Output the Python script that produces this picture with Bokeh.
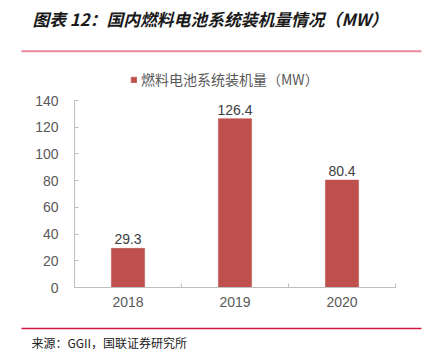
from bokeh.plotting import figure
from bokeh.models import (ColumnDataSource, LabelSet, Label, Legend, LegendItem,
                          FixedTicker, SingleIntervalTicker, Range1d, BoxAnnotation)
from bokeh.core.properties import value
from bokeh.embed import file_html
from bokeh.resources import INLINE

years = ["2018", "2019", "2020"]
values = [29.3, 126.4, 80.4]
value_labels = ["29.3", "126.4", "80.4"]
series_name = "燃料电池系统装机量（MW）"
title_text = "图表 12：国内燃料电池系统装机量情况（MW）"
source_text = "来源：GGII，国联证券研究所"
y_max = 140
y_step = 20

# layout (pixels)
W, H = 433, 360
AX_LEFT, AX_RIGHT = 74, 395      # x of y-axis and right end of x-axis
AX_TOP, AX_BOTTOM = 100, 287     # y of top tick and x-axis line
n = len(years)
sx = (AX_RIGHT - AX_LEFT) / n
sy = (AX_BOTTOM - AX_TOP) / y_max

x_pos = [i + 0.5 for i in range(n)]
src = ColumnDataSource(dict(x=x_pos, top=values, lab=value_labels))

p = figure(width=W, height=H, output_backend="svg", toolbar_location=None,
           x_range=Range1d(-AX_LEFT / sx, (W - AX_LEFT) / sx),
           y_range=Range1d(-(H - AX_BOTTOM) / sy, AX_BOTTOM / sy),
           min_border=0, outline_line_color=None)
p.grid.visible = False

r = p.vbar(x="x", top="top", width=0.31, source=src, fill_color="#c0504d",
           line_color="#b84a47", line_width=0.5)

CJK = "Noto Sans CJK SC"
LAT = "Liberation Sans"

# axes
p.yaxis.fixed_location = 0
p.yaxis.bounds = (0, y_max)
p.yaxis.ticker = SingleIntervalTicker(interval=y_step)
p.yaxis.axis_line_color = "#bfbfbf"
p.yaxis.major_tick_line_color = "#bfbfbf"
p.yaxis.major_tick_in = 4
p.yaxis.major_tick_out = 0
p.yaxis.minor_tick_line_color = None
p.yaxis.major_label_text_font = LAT
p.yaxis.major_label_text_font_size = "14px"
p.yaxis.major_label_text_color = "#595959"
p.yaxis.major_label_standoff = 12

p.xaxis.fixed_location = 0
p.xaxis.bounds = (0, n)
p.xaxis.ticker = FixedTicker(ticks=x_pos, minor_ticks=list(range(n + 1)))
p.xaxis.major_label_overrides = {x: y for x, y in zip(x_pos, years)}
p.xaxis.axis_line_color = "#bfbfbf"
p.xaxis.major_tick_line_color = None
p.xaxis.major_tick_in = 0
p.xaxis.major_tick_out = 0
p.xaxis.minor_tick_line_color = "#bfbfbf"
p.xaxis.minor_tick_in = 4
p.xaxis.minor_tick_out = 0
p.xaxis.major_label_text_font = LAT
p.xaxis.major_label_text_font_size = "14px"
p.xaxis.major_label_text_color = "#595959"
p.xaxis.major_label_standoff = 9

# data labels
p.add_layout(LabelSet(x="x", y="top", text="lab", source=src, text_align="center",
                      text_baseline="bottom", y_offset=4, text_font=value(LAT),
                      text_font_size="14px", text_color="#404040"))

# legend
legend = Legend(items=[LegendItem(label=series_name, renderers=[r])],
                location=(130, H - 89), padding=0, margin=0, spacing=0,
                glyph_width=7, glyph_height=7, label_height=14, label_standoff=4,
                label_text_font=CJK, label_text_font_size="14px",
                label_text_color="#595959", border_line_color=None,
                background_fill_alpha=0)
p.add_layout(legend, "center")

# title, rules and source
p.add_layout(Label(x=32, y=H - 18, x_units="screen", y_units="screen", text=title_text,
                   text_font=CJK, text_font_size="16.8px", text_font_style="bold italic",
                   text_color="#1a1a1a", text_baseline="middle"))
p.add_layout(BoxAnnotation(left=21, right=421, top=H - 49.7, bottom=H - 51.7,
                           left_units="screen", right_units="screen",
                           top_units="screen", bottom_units="screen",
                           fill_color="#e8889c", fill_alpha=1, line_color=None))
p.add_layout(BoxAnnotation(left=21, right=421, top=H - 327.3, bottom=H - 328.7,
                           left_units="screen", right_units="screen",
                           top_units="screen", bottom_units="screen",
                           fill_color="#d0173d", fill_alpha=1, line_color=None))
p.add_layout(Label(x=31, y=H - 342, x_units="screen", y_units="screen", text=source_text,
                   text_font=CJK, text_font_size="12px", text_color="#222222",
                   text_baseline="middle"))

open("out.html", "w").write(file_html(p, INLINE))
